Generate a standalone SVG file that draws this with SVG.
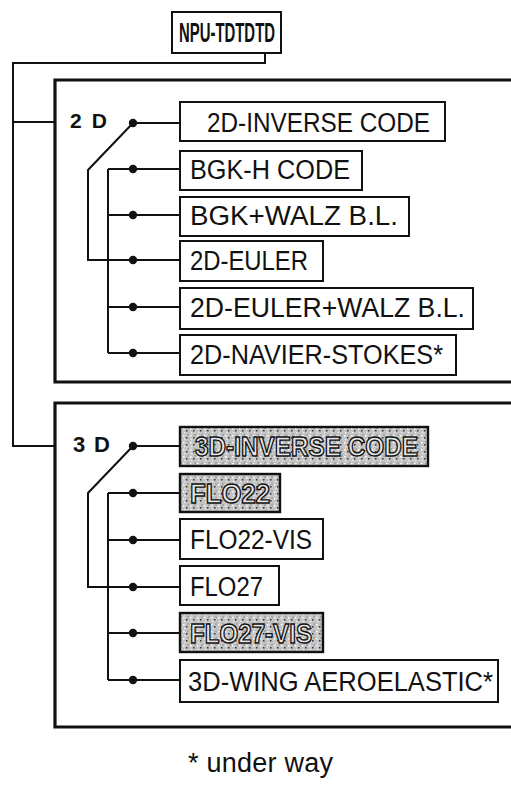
<svg xmlns="http://www.w3.org/2000/svg" width="511" height="786" viewBox="0 0 511 786">
<style>
.bx{fill:#fff;stroke:#111;stroke-width:2}
.sh{fill:url(#speck);stroke:#111;stroke-width:2.4}
.t{font-family:"Liberation Sans",Arial,sans-serif;font-size:27px;fill:#111}
.ts{font-family:"Liberation Sans",Arial,sans-serif;font-size:27px;fill:#e6e6e6;stroke:#111;stroke-width:1.4;font-weight:bold}
.b{font-family:"Liberation Sans",Arial,sans-serif;font-weight:bold;fill:#111}
.ln{fill:none;stroke:#111;stroke-width:2}
.pn{fill:none;stroke:#111;stroke-width:3.2}
.dot{fill:#111}
</style>
<defs>
<pattern id="speck" width="7" height="7" patternUnits="userSpaceOnUse">
<rect width="7" height="7" fill="#c4c4c4"/>
<rect x="1" y="1" width="1.5" height="1.5" fill="#fff"/>
<rect x="4" y="3" width="1.5" height="1.5" fill="#333"/>
<rect x="2" y="5" width="1.2" height="1.2" fill="#f2f2f2"/>
<rect x="5.5" y="0.5" width="1" height="1" fill="#555"/>
</pattern>
</defs>

<g id="connectors">
<path class="ln" d="M265 53 V63 H13 V446 H55 M13 122 H55"/>
<path class="ln" d="M133 123 H180 M133 123 L88 170 V260 H180 M108 169 V353 M108 169 H180 M108 215 H180 M108 307 H180 M108 353 H180"/>
<path class="ln" d="M133 446 H180 M133 446 L88 493 V587 H180 M108 493 V680 M108 493 H180 M108 540 H180 M108 633 H180 M108 680 H180"/>
<g class="dot">
<circle cx="133" cy="123" r="4.2"/><circle cx="133" cy="169" r="4.2"/><circle cx="133" cy="215" r="4.2"/><circle cx="133" cy="260" r="4.2"/><circle cx="133" cy="307" r="4.2"/><circle cx="133" cy="353" r="4.2"/>
<circle cx="133" cy="446" r="4.2"/><circle cx="133" cy="493" r="4.2"/><circle cx="133" cy="540" r="4.2"/><circle cx="133" cy="587" r="4.2"/><circle cx="133" cy="633" r="4.2"/><circle cx="133" cy="680" r="4.2"/>
</g>
</g>

<g id="root">
<rect class="bx" x="172" y="12" width="109" height="41"/>
<text class="b" x="179" y="42" font-size="27" textLength="96" lengthAdjust="spacingAndGlyphs">NPU-TDTDTD</text>
</g>

<g id="panel2D">
<path class="pn" d="M515 80 H55 V382 H515"/>
<text class="b" x="70" y="128" font-size="21" textLength="37" lengthAdjust="spacing">2 D</text>
</g>

<g id="panel3D">
<path class="pn" d="M515 403 H55 V727 H515"/>
<text class="b" x="73" y="452" font-size="22" textLength="37" lengthAdjust="spacing">3 D</text>
</g>

<g id="n2d-inverse"><rect class="bx" x="180" y="102" width="265" height="39"/><text class="t" x="207" y="132" textLength="223" lengthAdjust="spacingAndGlyphs">2D-INVERSE CODE</text></g>
<g id="n-bgkh"><rect class="bx" x="180" y="151" width="182" height="39"/><text class="t" x="190" y="179" textLength="160" lengthAdjust="spacingAndGlyphs">BGK-H CODE</text></g>
<g id="n-bgkwalz"><rect class="bx" x="180" y="197" width="229" height="39"/><text class="t" x="190" y="225" textLength="208" lengthAdjust="spacingAndGlyphs">BGK+WALZ B.L.</text></g>
<g id="n-2deuler"><rect class="bx" x="180" y="241" width="143" height="40"/><text class="t" x="190" y="270" textLength="118" lengthAdjust="spacingAndGlyphs">2D-EULER</text></g>
<g id="n-2deulerwalz"><rect class="bx" x="180" y="288" width="293" height="41"/><text class="t" x="190" y="317" textLength="275" lengthAdjust="spacingAndGlyphs">2D-EULER+WALZ B.L.</text></g>
<g id="n-navier"><rect class="bx" x="180" y="335" width="276" height="40"/><text class="t" x="190" y="364" textLength="253" lengthAdjust="spacingAndGlyphs">2D-NAVIER-STOKES*</text></g>

<g id="n3d-inverse"><rect class="sh" x="180" y="427" width="248" height="39"/><text class="ts" x="195" y="456" textLength="223" lengthAdjust="spacingAndGlyphs">3D-INVERSE CODE</text></g>
<g id="n-flo22"><rect class="sh" x="180" y="474" width="100" height="38"/><text class="ts" x="190" y="503" textLength="80" lengthAdjust="spacingAndGlyphs">FLO22</text></g>
<g id="n-flo22vis"><rect class="bx" x="180" y="519" width="143" height="40"/><text class="t" x="190" y="549" textLength="122" lengthAdjust="spacingAndGlyphs">FLO22-VIS</text></g>
<g id="n-flo27"><rect class="bx" x="180" y="566" width="99" height="39"/><text class="t" x="190" y="596" textLength="73" lengthAdjust="spacingAndGlyphs">FLO27</text></g>
<g id="n-flo27vis"><rect class="sh" x="180" y="613" width="143" height="39"/><text class="ts" x="190" y="643" textLength="122" lengthAdjust="spacingAndGlyphs">FLO27-VIS</text></g>
<g id="n-3dwing"><rect class="bx" x="180" y="660" width="318" height="42"/><text class="t" x="188" y="691" textLength="305" lengthAdjust="spacingAndGlyphs">3D-WING AEROELASTIC*</text></g>

<text class="t" x="188" y="772" font-size="22" textLength="145" lengthAdjust="spacing">* under way</text>
</svg>
